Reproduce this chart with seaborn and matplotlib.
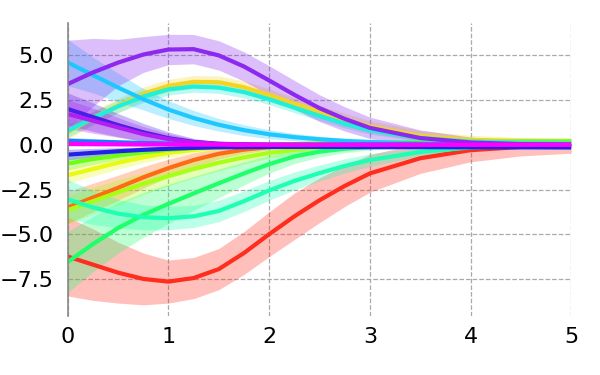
import matplotlib
matplotlib.use("Agg")
import numpy as np
import pandas as pd
import matplotlib.pyplot as plt
import seaborn as sns

# time points
t = [0, 0.25, 0.5, 0.75, 1, 1.25, 1.5, 1.75, 2, 2.25, 2.5, 2.75, 3, 3.5, 4, 4.5, 5]

# mean curves
red = [-6.25, -6.7, -7.15, -7.5, -7.65, -7.45, -6.95, -6.05, -5.0, -4.0, -3.1, -2.3, -1.6, -0.75, -0.3, -0.12, -0.05]
orange = [-3.5, -2.95, -2.4, -1.82, -1.3, -0.85, -0.5, -0.27, -0.13, -0.06, -0.03, -0.02, -0.01, 0, 0, 0, 0]
gold = [0.72, 1.5, 2.2, 2.85, 3.3, 3.52, 3.5, 3.22, 2.78, 2.3, 1.85, 1.42, 1.02, 0.5, 0.28, 0.2, 0.17]
yellow = [-1.7, -1.35, -1.0, -0.7, -0.45, -0.28, -0.15, -0.06, 0, 0.04, 0.06, 0.08, 0.09, 0.1, 0.1, 0.1, 0.1]
chartreuse = [-3.65, -3.15, -2.65, -2.18, -1.75, -1.35, -1.0, -0.7, -0.45, -0.28, -0.16, -0.08, -0.02, 0.06, 0.12, 0.18, 0.22]
lime = [-1.05, -0.8, -0.6, -0.42, -0.28, -0.18, -0.1, -0.04, 0, 0.04, 0.07, 0.1, 0.12, 0.15, 0.17, 0.18, 0.18]
green = [-6.55, -5.55, -4.65, -3.92, -3.3, -2.72, -2.15, -1.6, -1.08, -0.65, -0.38, -0.22, -0.13, -0.05, -0.02, 0, 0]
aqua = [-3.05, -3.5, -3.85, -4.05, -4.1, -4.0, -3.7, -3.15, -2.55, -2.02, -1.58, -1.18, -0.85, -0.4, -0.15, -0.05, -0.01]
turquoise = [0.78, 1.5, 2.15, 2.7, 3.1, 3.26, 3.2, 2.95, 2.55, 2.08, 1.62, 1.18, 0.82, 0.38, 0.18, 0.1, 0.08]
sky = [4.6, 3.9, 3.2, 2.55, 1.97, 1.5, 1.12, 0.82, 0.59, 0.43, 0.31, 0.22, 0.16, 0.08, 0.04, 0.02, 0.01]
azure = [0.22, 0.18, 0.14, 0.1, 0.07, 0.05, 0.03, 0.02, 0.01, 0, 0, 0, 0, 0, 0, 0, 0]
blue = [-0.55, -0.45, -0.36, -0.28, -0.22, -0.17, -0.14, -0.13, -0.12, -0.12, -0.12, -0.12, -0.13, -0.13, -0.14, -0.14, -0.15]
indigo = [2.0, 1.55, 1.1, 0.7, 0.37, 0.16, 0.06, 0.02, 0, 0, 0, 0, 0, 0, 0, 0, 0]
purple = [3.4, 4.05, 4.6, 5.05, 5.33, 5.35, 5.0, 4.38, 3.6, 2.8, 2.05, 1.45, 0.95, 0.38, 0.13, 0.04, 0.01]
violet = [1.72, 1.35, 0.97, 0.6, 0.32, 0.14, 0.05, 0.02, 0, 0, 0, 0, 0, 0, 0, 0, 0]
magenta = [0.05, 0.04, 0.03, 0.02, 0.02, 0.01, 0.01, 0, 0, 0, 0, 0, 0, 0, 0, 0, 0]

# half widths of the shaded bands
red_hw = [2.2, 2.0, 1.7, 1.45, 1.2, 1.15, 1.15, 1.2, 1.25, 1.3, 1.25, 1.15, 1.05, 0.85, 0.65, 0.5, 0.42]
orange_hw = [0.9, 0.8, 0.7, 0.6, 0.5, 0.4, 0.3, 0.22, 0.15, 0.1, 0.08, 0.06, 0.05, 0.04, 0.03, 0.03, 0.03]
gold_hw = [0.4, 0.4, 0.4, 0.38, 0.36, 0.35, 0.35, 0.35, 0.35, 0.35, 0.35, 0.35, 0.33, 0.3, 0.25, 0.2, 0.18]
yellow_hw = [0.45, 0.4, 0.35, 0.3, 0.25, 0.2, 0.15, 0.1, 0.08, 0.06, 0.05, 0.05, 0.05, 0.05, 0.05, 0.05, 0.05]
chartreuse_hw = [0.8, 0.75, 0.7, 0.6, 0.55, 0.5, 0.45, 0.38, 0.3, 0.25, 0.2, 0.15, 0.12, 0.08, 0.06, 0.05, 0.05]
lime_hw = [0.35, 0.3, 0.25, 0.2, 0.16, 0.12, 0.1, 0.08, 0.06, 0.05, 0.05, 0.05, 0.05, 0.05, 0.05, 0.05, 0.05]
green_hw = [1.7, 1.55, 1.4, 1.25, 1.1, 0.95, 0.8, 0.65, 0.5, 0.4, 0.3, 0.22, 0.16, 0.1, 0.06, 0.04, 0.03]
aqua_hw = [1.1, 0.95, 0.8, 0.7, 0.65, 0.62, 0.6, 0.58, 0.55, 0.5, 0.45, 0.4, 0.35, 0.25, 0.15, 0.1, 0.06]
turquoise_hw = [0.35, 0.35, 0.35, 0.33, 0.32, 0.32, 0.32, 0.32, 0.3, 0.28, 0.26, 0.24, 0.22, 0.18, 0.14, 0.1, 0.08]
sky_hw = [1.3, 1.0, 0.8, 0.6, 0.5, 0.42, 0.35, 0.3, 0.25, 0.2, 0.17, 0.14, 0.12, 0.08, 0.06, 0.05, 0.05]
azure_hw = [0.2, 0.17, 0.14, 0.12, 0.1, 0.08, 0.06, 0.05, 0.05, 0.05, 0.05, 0.05, 0.05, 0.05, 0.05, 0.05, 0.05]
blue_hw = [0.3, 0.25, 0.2, 0.16, 0.12, 0.1, 0.08, 0.06, 0.05, 0.05, 0.05, 0.05, 0.05, 0.05, 0.05, 0.05, 0.05]
indigo_hw = [0.9, 0.8, 0.65, 0.5, 0.35, 0.2, 0.1, 0.06, 0.05, 0.05, 0.05, 0.05, 0.05, 0.05, 0.05, 0.05, 0.05]
purple_hw = [2.45, 1.9, 1.3, 1.0, 0.85, 0.82, 0.82, 0.82, 0.82, 0.8, 0.75, 0.68, 0.6, 0.45, 0.3, 0.2, 0.15]
violet_hw = [0.8, 0.7, 0.55, 0.42, 0.3, 0.18, 0.1, 0.06, 0.05, 0.05, 0.05, 0.05, 0.05, 0.05, 0.05, 0.05, 0.05]
magenta_hw = [0.1, 0.1, 0.08, 0.07, 0.06, 0.05, 0.05, 0.05, 0.05, 0.05, 0.05, 0.05, 0.05, 0.05, 0.05, 0.05, 0.05]

names = ["red", "orange", "gold", "yellow", "chartreuse", "lime", "green", "aqua",
         "turquoise", "sky", "azure", "blue", "indigo", "purple", "violet", "magenta"]
colors = ["#ff2d1e", "#ff6a12", "#f2d424", "#e8fa14", "#a6ff14", "#6cff14", "#1eff6a", "#1effb4",
          "#1ef0dc", "#1ec8ff", "#1e78ff", "#2222e6", "#4a1ee6", "#8c28f0", "#b41ef0", "#ff00ff"]
means = [red, orange, gold, yellow, chartreuse, lime, green, aqua,
         turquoise, sky, azure, blue, indigo, purple, violet, magenta]
widths = [red_hw, orange_hw, gold_hw, yellow_hw, chartreuse_hw, lime_hw, green_hw, aqua_hw,
          turquoise_hw, sky_hw, azure_hw, blue_hw, indigo_hw, purple_hw, violet_hw, magenta_hw]

rows = []
for name, m in zip(names, means):
    for ti, v in zip(t, m):
        rows.append({"t": ti, "value": v, "series": name})
df = pd.DataFrame(rows)

sns.set_style("whitegrid", {"grid.linestyle": "--", "grid.color": "#aaaaaa"})

fig = plt.figure(figsize=(6, 3.75), dpi=100)
ax = fig.add_axes([0.113, 0.157, 0.839, 0.782])

for m, hw, c in zip(means, widths, colors):
    m = np.array(m)
    hw = np.array(hw)
    ax.fill_between(t, m - hw, m + hw, color=c, alpha=0.3, lw=0)

sns.lineplot(data=df, x="t", y="value", hue="series", hue_order=names,
             palette=dict(zip(names, colors)), lw=3, legend=False,
             errorbar=None, ax=ax)

ax.set_xlim(0, 5)
ax.set_ylim(-9.58, 6.82)
ax.set_xticks([0, 1, 2, 3, 4, 5])
ax.set_yticks([-7.5, -5.0, -2.5, 0.0, 2.5, 5.0])
ax.set_xlabel("")
ax.set_ylabel("")
ax.grid(True, ls="--", color="#aaaaaa", lw=0.9)
for s in ["top", "right", "bottom"]:
    ax.spines[s].set_visible(False)
ax.spines["left"].set_color("#888888")
ax.spines["left"].set_linewidth(1.2)
ax.tick_params(axis="x", length=0, labelsize=16, pad=8, labelcolor="black")
ax.tick_params(axis="y", length=0, labelsize=16, pad=10, labelcolor="black")

fig.savefig("out.png", dpi=100)
